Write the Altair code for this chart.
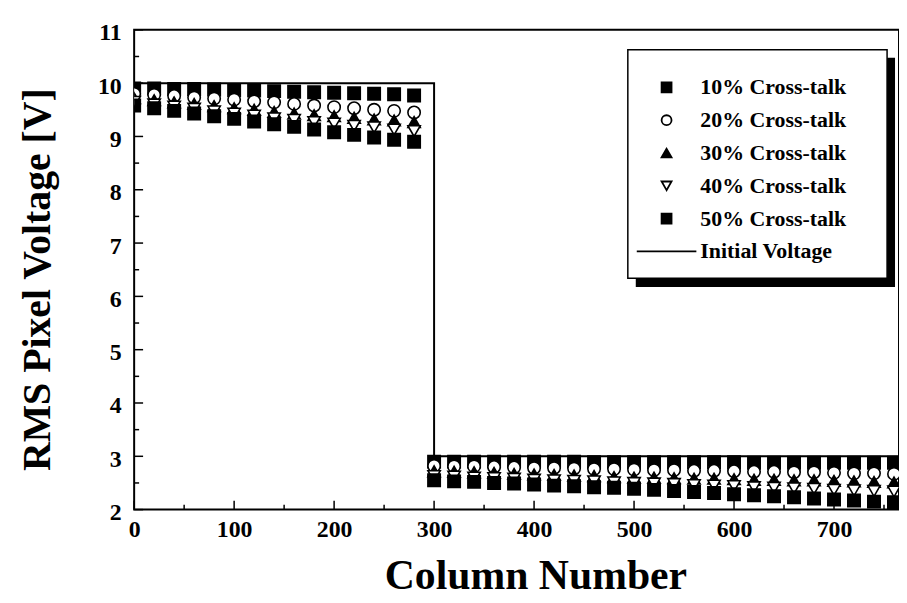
import altair as alt
import pandas as pd

# ---------------- data ----------------
cols_left = [0, 20, 40, 60, 80, 100, 120, 140, 160, 180, 200, 220, 240, 260, 280]
cols_right = [300, 320, 340, 360, 380, 400, 420, 440, 460, 480, 500, 520,
              540, 560, 580, 600, 620, 640, 660, 680, 700, 720, 740, 760]

series_names = ["10% Cross-talk", "20% Cross-talk", "30% Cross-talk",
                "40% Cross-talk", "50% Cross-talk"]

v10_left = [9.90, 9.90, 9.89, 9.89, 9.88, 9.87, 9.86, 9.85, 9.84, 9.83, 9.82, 9.81, 9.80, 9.79, 9.77]
v20_left = [9.80, 9.78, 9.76, 9.73, 9.71, 9.69, 9.66, 9.64, 9.61, 9.58, 9.55, 9.53, 9.50, 9.48, 9.45]
v30_left = [9.72, 9.68, 9.64, 9.61, 9.57, 9.53, 9.50, 9.46, 9.43, 9.40, 9.38, 9.35, 9.32, 9.30, 9.27]
v40_left = [9.65, 9.60, 9.56, 9.52, 9.47, 9.43, 9.39, 9.34, 9.31, 9.27, 9.24, 9.20, 9.17, 9.13, 9.10]
v50_left = [9.58, 9.53, 9.48, 9.43, 9.38, 9.33, 9.28, 9.23, 9.18, 9.13, 9.08, 9.03, 8.98, 8.94, 8.90]

v10_right = [2.90, 2.90, 2.90, 2.90, 2.90, 2.90, 2.90, 2.90, 2.89, 2.89, 2.89, 2.89,
             2.89, 2.89, 2.89, 2.89, 2.88, 2.88, 2.88, 2.88, 2.88, 2.88, 2.88, 2.88]
v20_right = [2.82, 2.81, 2.81, 2.80, 2.79, 2.78, 2.78, 2.77, 2.76, 2.76, 2.75, 2.74,
             2.74, 2.73, 2.73, 2.72, 2.71, 2.71, 2.70, 2.70, 2.69, 2.68, 2.68, 2.67]
v30_right = [2.72, 2.71, 2.70, 2.69, 2.67, 2.66, 2.65, 2.64, 2.63, 2.61, 2.60, 2.60,
             2.59, 2.58, 2.58, 2.57, 2.56, 2.56, 2.55, 2.55, 2.54, 2.53, 2.52, 2.51]
v40_right = [2.63, 2.62, 2.60, 2.59, 2.58, 2.56, 2.55, 2.54, 2.53, 2.51, 2.50, 2.49,
             2.48, 2.46, 2.45, 2.44, 2.42, 2.41, 2.40, 2.39, 2.37, 2.36, 2.35, 2.34]
v50_right = [2.55, 2.53, 2.52, 2.50, 2.49, 2.47, 2.45, 2.44, 2.42, 2.41, 2.39, 2.37,
             2.35, 2.33, 2.31, 2.29, 2.27, 2.25, 2.23, 2.21, 2.19, 2.17, 2.15, 2.14]

init_label = "Initial Voltage"
init_cols = [0, 300, 300, 765]
init_volts = [10, 10, 3, 3]

x_tick_values = [0, 100, 200, 300, 400, 500, 600, 700]
x_minor_values = [50, 150, 250, 350, 450, 550, 650, 750]
y_tick_values = [2, 3, 4, 5, 6, 7, 8, 9, 10, 11]
y_minor_values = [2.5, 3.5, 4.5, 5.5, 6.5, 7.5, 8.5, 9.5, 10.5]

# ---------------- tables ----------------
left_vals = [v10_left, v20_left, v30_left, v40_left, v50_left]
right_vals = [v10_right, v20_right, v30_right, v40_right, v50_right]
rows = []
for name, a, b in zip(series_names, left_vals, right_vals):
    for c, v in zip(cols_left, a):
        rows.append({"col": c, "volt": v, "series": name})
    for c, v in zip(cols_right, b):
        rows.append({"col": c, "volt": v, "series": name})
pts = pd.DataFrame(rows)
init_df = pd.DataFrame({"col": init_cols, "volt": init_volts})

W, H = 770, 483
FONT = "Liberation Serif"

x_scale = alt.Scale(domain=[0, 765], nice=False, zero=False)
y_scale = alt.Scale(domain=[2, 11], nice=False, zero=False)
x_axis = alt.Axis(title="Column Number", values=x_tick_values, ticks=False, domain=False,
                  grid=False, labelFlush=False, labelPadding=8, labelFontSize=24,
                  titleFontSize=42, titleX=404, titleY=46, titleBaseline="top")
y_axis = alt.Axis(title="RMS Pixel Voltage [V]", values=y_tick_values, ticks=False, domain=False,
                  grid=False, labelPadding=13, labelFontSize=24, labelOffset=3,
                  titleFontSize=40, titleX=-77, titleY=251)

legend_domain = series_names + [init_label]
shape_range = ["square", "circle", "triangle-up", "triangle-down", "square", "M-6,0L6,0"]
fill_range = ["black", "white", "black", "white", "black", "transparent"]
stroke_range = ["black", "black", "black", "black", "black", "black"]

legend = alt.Legend(title=None, orient="none", legendX=525, legendY=47,
                    labelFont=FONT, labelFontWeight="bold", labelFontSize=22,
                    labelOffset=23, rowPadding=11, symbolSize=100,
                    symbolStrokeColor="black", symbolStrokeWidth=1.8, labelLimit=300)

one = pd.DataFrame({"k": [0]})

shadow = alt.Chart(one).mark_rect(color="black").encode(
    x=alt.value(505), x2=alt.value(766), y=alt.value(28), y2=alt.value(259))
box = alt.Chart(one).mark_rect(fill="white", stroke="black", strokeWidth=1.5).encode(
    x=alt.value(497), x2=alt.value(758), y=alt.value(20), y2=alt.value(250))

init_line = alt.Chart(init_df).mark_line(color="black", strokeWidth=2, clip=True).encode(
    x=alt.X("col:Q", scale=x_scale, axis=x_axis),
    y=alt.Y("volt:Q", scale=y_scale, axis=y_axis),
    order=alt.Order("idx:Q"),
).transform_window(idx="row_number()")

points = alt.Chart(pts).mark_point(size=155, strokeWidth=1.6,
                                   opacity=1, fillOpacity=1, strokeOpacity=1, clip=True).encode(
    x=alt.X("col:Q", scale=x_scale, axis=x_axis),
    y=alt.Y("volt:Q", scale=y_scale, axis=y_axis),
    shape=alt.Shape("series:N", scale=alt.Scale(domain=legend_domain, range=shape_range), legend=legend),
    fill=alt.Fill("series:N", scale=alt.Scale(domain=legend_domain, range=fill_range), legend=legend),
    stroke=alt.Stroke("series:N", scale=alt.Scale(domain=legend_domain, range=stroke_range), legend=legend),
)

y_major = alt.Chart(pd.DataFrame({"t": y_tick_values})).mark_rule(color="black", strokeWidth=1.5).encode(
    y=alt.Y("t:Q", scale=y_scale, axis=y_axis), x=alt.value(0), x2=alt.value(9))
y_minor = alt.Chart(pd.DataFrame({"t": y_minor_values})).mark_rule(color="black", strokeWidth=1.5).encode(
    y=alt.Y("t:Q", scale=y_scale, axis=y_axis), x=alt.value(0), x2=alt.value(5))
x_major = alt.Chart(pd.DataFrame({"t": x_tick_values})).mark_rule(color="black", strokeWidth=1.5).encode(
    x=alt.X("t:Q", scale=x_scale, axis=x_axis), y=alt.value(H), y2=alt.value(H - 9))
x_minor = alt.Chart(pd.DataFrame({"t": x_minor_values})).mark_rule(color="black", strokeWidth=1.5).encode(
    x=alt.X("t:Q", scale=x_scale, axis=x_axis), y=alt.value(H), y2=alt.value(H - 5))

chart = alt.layer(shadow, box, init_line, points, y_major, y_minor, x_major, x_minor).properties(
    width=W, height=H,
    autosize=alt.AutoSizeParams(type="none"),
    padding={"left": 127, "top": 20, "right": 0, "bottom": 87},
    background="white",
).configure_axis(
    labelFont=FONT, labelFontWeight="bold", labelColor="black",
    titleFont=FONT, titleFontWeight="bold", titleColor="black",
).configure_view(stroke="black", strokeWidth=2)

chart.save("out.html", embed_options={"renderer": "svg", "actions": False})
